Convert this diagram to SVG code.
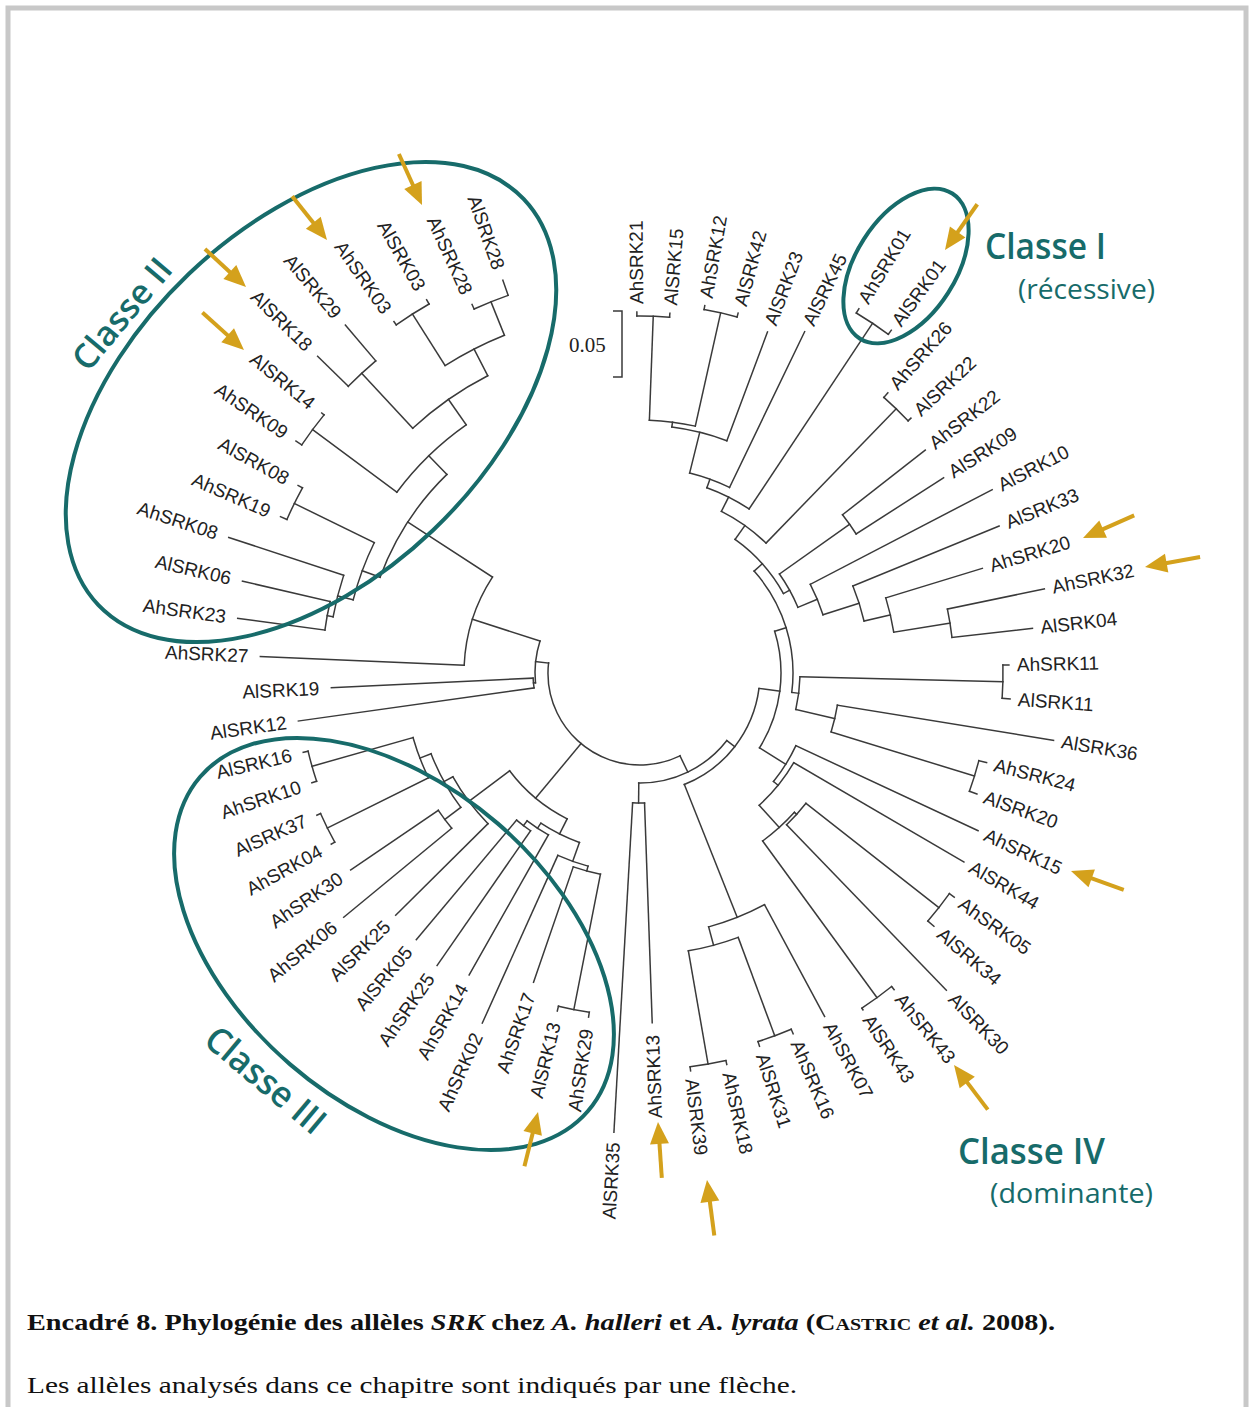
<svg xmlns="http://www.w3.org/2000/svg" width="1253" height="1407" viewBox="0 0 1253 1407">
  <style>
    .br line, .br circle { stroke: #3a3a3a; stroke-width: 1.5; fill: none; stroke-linecap: square; }
    .lab text { font-family: "Liberation Sans", Arial, sans-serif; font-size: 19px; fill: #222; }
    .lab .l { text-anchor: end; }
    .clade { fill: none; stroke: #176b6a; stroke-width: 4; }
    .cls { font-family: "Open Sans", "Liberation Sans", sans-serif; fill: #176b6a; }
    .cap { font-family: "Liberation Serif", "Times New Roman", serif; font-size: 24px; fill: #111; }
  </style>
  <defs>
    <g id="arrow">
      <line x1="-56" y1="0" x2="-14" y2="0" stroke="#d4a11c" stroke-width="4"/>
      <path d="M0,0 L-22,-9.5 L-22,9.5 Z" fill="#d4a11c"/>
    </g>
  </defs>

  <rect width="1253" height="1407" fill="#fff"/>
  <rect x="8" y="8" width="1238" height="1430" fill="none" stroke="#c8c8c8" stroke-width="5"/>

  <!-- scale bar -->
  <g id="scale">
    <path d="M613,311 H622 V377 H613" fill="none" stroke="#3a3a3a" stroke-width="1.5"/>
    <text x="569" y="352" font-family="Liberation Serif, serif" font-size="21" fill="#222">0.05</text>
  </g>

  <g transform="translate(640,673)">
    <!-- branches: node arcs and radial segments -->
    <g id="connectors" class="br">
      <!-- arcs -->
      <circle r="357" stroke-dasharray="32.71 3000" transform="rotate(-90.5)"/>
      <circle r="369" stroke-dasharray="33.81 3000" transform="rotate(-80)"/>
      <circle r="253" stroke-dasharray="46.36 3000" transform="rotate(-87.875)"/>
      <circle r="248" stroke-dasharray="56.81 3000" transform="rotate(-82.625)"/>
      <circle r="206" stroke-dasharray="42.47 3000" transform="rotate(-76.0625)"/>
      <circle r="420" stroke-dasharray="38.48 3000" transform="rotate(-59)"/>
      <circle r="197" stroke-dasharray="47.38 3000" transform="rotate(-70.156)"/>
      <circle r="368" stroke-dasharray="33.72 3000" transform="rotate(-48.5)"/>
      <circle r="181" stroke-dasharray="54.94 3000" transform="rotate(-63.266)"/>
      <circle r="257" stroke-dasharray="23.55 3000" transform="rotate(-38)"/>
      <circle r="314" stroke-dasharray="28.77 3000" transform="rotate(-11.75)"/>
      <circle r="257" stroke-dasharray="35.32 3000" transform="rotate(-17)"/>
      <circle r="230" stroke-dasharray="36.88 3000" transform="rotate(-22.25)"/>
      <circle r="192" stroke-dasharray="32.99 3000" transform="rotate(-27.5)"/>
      <circle r="171" stroke-dasharray="38.19 3000" transform="rotate(-35.375)"/>
      <circle r="164" stroke-dasharray="73.26 3000" transform="rotate(-54.57)"/>
      <circle r="363" stroke-dasharray="33.26 3000" transform="rotate(-1.25)"/>
      <circle r="350" stroke-dasharray="32.07 3000" transform="rotate(14.5)"/>
      <circle r="200" stroke-dasharray="27.49 3000" transform="rotate(9.25)"/>
      <circle r="160" stroke-dasharray="32.99 3000" transform="rotate(1.375)"/>
      <circle r="153" stroke-dasharray="130.98 3000" transform="rotate(-41.77)"/>
      <circle r="380" stroke-dasharray="34.82 3000" transform="rotate(35.5)"/>
      <circle r="211" stroke-dasharray="29.0 3000" transform="rotate(38.125)"/>
      <circle r="402" stroke-dasharray="36.84 3000" transform="rotate(51.25)"/>
      <circle r="208" stroke-dasharray="42.89 3000" transform="rotate(42.06)"/>
      <circle r="178" stroke-dasharray="55.05 3000" transform="rotate(30.25)"/>
      <circle r="172" stroke-dasharray="42.36 3000" transform="rotate(25)"/>
      <circle r="141" stroke-dasharray="121.32 3000" transform="rotate(-17.245)"/>
      <circle r="387" stroke-dasharray="35.46 3000" transform="rotate(67)"/>
      <circle r="397" stroke-dasharray="36.38 3000" transform="rotate(77.5)"/>
      <circle r="282" stroke-dasharray="51.68 3000" transform="rotate(69.625)"/>
      <circle r="263" stroke-dasharray="60.25 3000" transform="rotate(61.75)"/>
      <circle r="120" stroke-dasharray="127.56 3000" transform="rotate(7.405)"/>
      <circle r="130" stroke-dasharray="11.91 3000" transform="rotate(88)"/>
      <circle r="110" stroke-dasharray="101.3 3000" transform="rotate(37.86)"/>
      <circle r="92" stroke-dasharray="195.82 3000" transform="rotate(64.24)"/>
      <circle r="343" stroke-dasharray="31.43 3000" transform="rotate(98.5)"/>
      <circle r="205" stroke-dasharray="28.18 3000" transform="rotate(101.125)"/>
      <circle r="200" stroke-dasharray="32.08 3000" transform="rotate(105.06)"/>
      <circle r="192" stroke-dasharray="17.59 3000" transform="rotate(124.75)"/>
      <circle r="186" stroke-dasharray="25.56 3000" transform="rotate(119.5)"/>
      <circle r="180" stroke-dasharray="43.29 3000" transform="rotate(109.66)"/>
      <circle r="244" stroke-dasharray="22.36 3000" transform="rotate(140.5)"/>
      <circle r="349" stroke-dasharray="31.98 3000" transform="rotate(151)"/>
      <circle r="341" stroke-dasharray="31.25 3000" transform="rotate(161.5)"/>
      <circle r="236" stroke-dasharray="43.25 3000" transform="rotate(153.625)"/>
      <circle r="224" stroke-dasharray="61.58 3000" transform="rotate(143.125)"/>
      <circle r="214" stroke-dasharray="58.83 3000" transform="rotate(135.25)"/>
      <circle r="163" stroke-dasharray="75.6 3000" transform="rotate(116.55)"/>
      <circle r="107" stroke-dasharray="9.80 3000" transform="rotate(172)"/>
      <circle r="318" stroke-dasharray="29.14 3000" transform="rotate(187.75)"/>
      <circle r="312" stroke-dasharray="42.88 3000" transform="rotate(190.375)"/>
      <circle r="385" stroke-dasharray="35.28 3000" transform="rotate(203.5)"/>
      <circle r="296" stroke-dasharray="61.04 3000" transform="rotate(194.31)"/>
      <circle r="408" stroke-dasharray="37.39 3000" transform="rotate(214)"/>
      <circle r="409" stroke-dasharray="37.48 3000" transform="rotate(224.5)"/>
      <circle r="425" stroke-dasharray="38.94 3000" transform="rotate(235)"/>
      <circle r="400" stroke-dasharray="36.65 3000" transform="rotate(245.5)"/>
      <circle r="364" stroke-dasharray="66.71 3000" transform="rotate(237.625)"/>
      <circle r="334" stroke-dasharray="91.81 3000" transform="rotate(227.125)"/>
      <circle r="303" stroke-dasharray="97.17 3000" transform="rotate(216.625)"/>
      <circle r="277" stroke-dasharray="123.72 3000" transform="rotate(200.22)"/>
      <circle r="176" stroke-dasharray="93.75 3000" transform="rotate(182.5)"/>
      <circle r="105" stroke-dasharray="42.40 3000" transform="rotate(174.625)"/>

      <!-- radial segments -->
      <line x1="357" x2="361" transform="rotate(-90.5)"/>
      <line x1="357" x2="361" transform="rotate(-85.25)"/>
      <line x1="369" x2="373" transform="rotate(-80)"/>
      <line x1="369" x2="373" transform="rotate(-74.75)"/>
      <line x1="253" x2="357" transform="rotate(-87.875)"/>
      <line x1="253" x2="369" transform="rotate(-77.375)"/>
      <line x1="248" x2="253" transform="rotate(-82.625)"/>
      <line x1="248" x2="364" transform="rotate(-69.5)"/>
      <line x1="206" x2="248" transform="rotate(-76.0625)"/>
      <line x1="206" x2="379" transform="rotate(-64.25)"/>
      <line x1="197" x2="206" transform="rotate(-70.156)"/>
      <line x1="420" x2="425" transform="rotate(-59)"/>
      <line x1="420" x2="425" transform="rotate(-53.75)"/>
      <line x1="197" x2="420" transform="rotate(-56.375)"/>
      <line x1="181" x2="197" transform="rotate(-63.266)"/>
      <line x1="368" x2="374" transform="rotate(-48.5)"/>
      <line x1="368" x2="372" transform="rotate(-43.25)"/>
      <line x1="181" x2="368" transform="rotate(-45.875)"/>
      <line x1="164" x2="181" transform="rotate(-54.57)"/>
      <line x1="257" x2="362" transform="rotate(-38)"/>
      <line x1="257" x2="361" transform="rotate(-32.75)"/>
      <line x1="171" x2="257" transform="rotate(-35.375)"/>
      <line x1="192" x2="397" transform="rotate(-27.5)"/>
      <line x1="230" x2="388" transform="rotate(-22.25)"/>
      <line x1="257" x2="358" transform="rotate(-17)"/>
      <line x1="314" x2="413" transform="rotate(-11.75)"/>
      <line x1="314" x2="395" transform="rotate(-6.5)"/>
      <line x1="257" x2="314" transform="rotate(-9.125)"/>
      <line x1="230" x2="257" transform="rotate(-13.0625)"/>
      <line x1="192" x2="230" transform="rotate(-17.656)"/>
      <line x1="171" x2="192" transform="rotate(-22.578)"/>
      <line x1="164" x2="171" transform="rotate(-28.977)"/>
      <line x1="153" x2="164" transform="rotate(-41.77)"/>
      <line x1="363" x2="369" transform="rotate(-1.25)"/>
      <line x1="363" x2="371" transform="rotate(4)"/>
      <line x1="160" x2="363" transform="rotate(1.375)"/>
      <line x1="200" x2="419" transform="rotate(9.25)"/>
      <line x1="350" x2="358" transform="rotate(14.5)"/>
      <line x1="350" x2="358" transform="rotate(19.75)"/>
      <line x1="200" x2="350" transform="rotate(17.125)"/>
      <line x1="160" x2="200" transform="rotate(13.19)"/>
      <line x1="153" x2="160" transform="rotate(7.28)"/>
      <line x1="141" x2="153" transform="rotate(-17.245)"/>
      <line x1="172" x2="373" transform="rotate(25)"/>
      <line x1="178" x2="375" transform="rotate(30.25)"/>
      <line x1="172" x2="178" transform="rotate(39.11)"/>
      <line x1="141" x2="172" transform="rotate(32.055)"/>
      <line x1="380" x2="386" transform="rotate(35.5)"/>
      <line x1="380" x2="388" transform="rotate(40.75)"/>
      <line x1="211" x2="380" transform="rotate(38.125)"/>
      <line x1="211" x2="441" transform="rotate(46)"/>
      <line x1="208" x2="211" transform="rotate(42.06)"/>
      <line x1="402" x2="406" transform="rotate(51.25)"/>
      <line x1="402" x2="404" transform="rotate(56.5)"/>
      <line x1="208" x2="402" transform="rotate(53.875)"/>
      <line x1="178" x2="208" transform="rotate(47.97)"/>
      <line x1="120" x2="141" transform="rotate(7.405)"/>
      <line x1="263" x2="390" transform="rotate(61.75)"/>
      <line x1="387" x2="392" transform="rotate(67)"/>
      <line x1="387" x2="392" transform="rotate(72.25)"/>
      <line x1="397" x2="401" transform="rotate(77.5)"/>
      <line x1="397" x2="401" transform="rotate(82.75)"/>
      <line x1="282" x2="387" transform="rotate(69.625)"/>
      <line x1="282" x2="397" transform="rotate(80.125)"/>
      <line x1="263" x2="282" transform="rotate(74.875)"/>
      <line x1="120" x2="263" transform="rotate(68.31)"/>
      <line x1="110" x2="120" transform="rotate(37.86)"/>
      <line x1="130" x2="350" transform="rotate(88)"/>
      <line x1="130" x2="460" transform="rotate(93.25)"/>
      <line x1="110" x2="130" transform="rotate(90.625)"/>
      <line x1="92" x2="110" transform="rotate(64.24)"/>

      <line x1="343" x2="348" transform="rotate(98.5)"/>
      <line x1="343" x2="348" transform="rotate(103.75)"/>
      <line x1="205" x2="343" transform="rotate(101.125)"/>
      <line x1="205" x2="327" transform="rotate(109)"/>
      <line x1="200" x2="205" transform="rotate(105.06)"/>
      <line x1="200" x2="384" transform="rotate(114.25)"/>
      <line x1="180" x2="200" transform="rotate(109.66)"/>
      <line x1="186" x2="347" transform="rotate(119.5)"/>
      <line x1="192" x2="356" transform="rotate(124.75)"/>
      <line x1="192" x2="348" transform="rotate(130)"/>
      <line x1="186" x2="192" transform="rotate(127.375)"/>
      <line x1="180" x2="186" transform="rotate(123.44)"/>
      <line x1="163" x2="180" transform="rotate(116.55)"/>
      <line x1="214" x2="344" transform="rotate(135.25)"/>
      <line x1="244" x2="384" transform="rotate(140.5)"/>
      <line x1="244" x2="350" transform="rotate(145.75)"/>
      <line x1="224" x2="244" transform="rotate(143.125)"/>
      <line x1="349" x2="353" transform="rotate(151)"/>
      <line x1="349" x2="353" transform="rotate(156.25)"/>
      <line x1="341" x2="346" transform="rotate(161.5)"/>
      <line x1="341" x2="346" transform="rotate(166.75)"/>
      <line x1="236" x2="349" transform="rotate(153.625)"/>
      <line x1="236" x2="341" transform="rotate(164.125)"/>
      <line x1="224" x2="236" transform="rotate(158.875)"/>
      <line x1="214" x2="224" transform="rotate(151)"/>
      <line x1="163" x2="214" transform="rotate(143.125)"/>
      <line x1="92" x2="163" transform="rotate(129.84)"/>
      <line x1="107" x2="345" transform="rotate(172)"/>
      <line x1="107" x2="309" transform="rotate(177.25)"/>
      <line x1="105" x2="107" transform="rotate(174.625)"/>
      <line x1="176" x2="380" transform="rotate(182.5)"/>
      <line x1="318" x2="406" transform="rotate(187.75)"/>
      <line x1="318" x2="408" transform="rotate(193)"/>
      <line x1="312" x2="318" transform="rotate(190.375)"/>
      <line x1="312" x2="433" transform="rotate(198.25)"/>
      <line x1="296" x2="312" transform="rotate(194.31)"/>
      <line x1="385" x2="392" transform="rotate(203.5)"/>
      <line x1="385" x2="390" transform="rotate(208.75)"/>
      <line x1="296" x2="385" transform="rotate(206.125)"/>
      <line x1="277" x2="296" transform="rotate(200.22)"/>
      <line x1="408" x2="415" transform="rotate(214)"/>
      <line x1="408" x2="411" transform="rotate(219.25)"/>
      <line x1="303" x2="408" transform="rotate(216.625)"/>
      <line x1="409" x2="452" transform="rotate(224.5)"/>
      <line x1="409" x2="456" transform="rotate(229.75)"/>
      <line x1="425" x2="429" transform="rotate(235)"/>
      <line x1="425" x2="430" transform="rotate(240.25)"/>
      <line x1="400" x2="405" transform="rotate(245.5)"/>
      <line x1="400" x2="416" transform="rotate(250.75)"/>
      <line x1="334" x2="409" transform="rotate(227.125)"/>
      <line x1="364" x2="425" transform="rotate(237.625)"/>
      <line x1="364" x2="400" transform="rotate(248.125)"/>
      <line x1="334" x2="364" transform="rotate(242.875)"/>
      <line x1="303" x2="334" transform="rotate(235)"/>
      <line x1="277" x2="303" transform="rotate(225.8125)"/>
      <line x1="176" x2="277" transform="rotate(213.02)"/>
      <line x1="105" x2="176" transform="rotate(197.76)"/>
      <line x1="92" x2="105" transform="rotate(186.19)"/>
    </g>

    <!-- leaf labels -->
    <g class="lab" dominant-baseline="central">
      <g id="AhSRK21"><text transform="rotate(-90.5) translate(369)">AhSRK21</text></g>
      <g id="AlSRK15"><text transform="rotate(-85.25) translate(369)">AlSRK15</text></g>
      <g id="AhSRK12"><text transform="rotate(-80) translate(381)">AhSRK12</text></g>
      <g id="AlSRK42"><text transform="rotate(-74.75) translate(381)">AlSRK42</text></g>
      <g id="AlSRK23"><text transform="rotate(-69.5) translate(372)">AlSRK23</text></g>
      <g id="AlSRK45"><text transform="rotate(-64.25) translate(387)">AlSRK45</text></g>
      <g id="AhSRK01"><text transform="rotate(-59) translate(433)">AhSRK01</text></g>
      <g id="AlSRK01"><text transform="rotate(-53.75) translate(433)">AlSRK01</text></g>
      <g id="AhSRK26"><text transform="rotate(-48.5) translate(382)">AhSRK26</text></g>
      <g id="AlSRK22"><text transform="rotate(-43.25) translate(380)">AlSRK22</text></g>
      <g id="AhSRK22"><text transform="rotate(-38) translate(370)">AhSRK22</text></g>
      <g id="AlSRK09"><text transform="rotate(-32.75) translate(369)">AlSRK09</text></g>
      <g id="AlSRK10"><text transform="rotate(-27.5) translate(405)">AlSRK10</text></g>
      <g id="AlSRK33"><text transform="rotate(-22.25) translate(396)">AlSRK33</text></g>
      <g id="AhSRK20"><text transform="rotate(-17) translate(366)">AhSRK20</text></g>
      <g id="AhSRK32"><text transform="rotate(-11.75) translate(421)">AhSRK32</text></g>
      <g id="AlSRK04"><text transform="rotate(-6.5) translate(403)">AlSRK04</text></g>
      <g id="AhSRK11"><text transform="rotate(-1.25) translate(377)">AhSRK11</text></g>
      <g id="AlSRK11"><text transform="rotate(4) translate(379)">AlSRK11</text></g>
      <g id="AlSRK36"><text transform="rotate(9.25) translate(427)">AlSRK36</text></g>
      <g id="AhSRK24"><text transform="rotate(14.5) translate(366)">AhSRK24</text></g>
      <g id="AlSRK20"><text transform="rotate(19.75) translate(366)">AlSRK20</text></g>
      <g id="AhSRK15"><text transform="rotate(25) translate(381)">AhSRK15</text></g>
      <g id="AlSRK44"><text transform="rotate(30.25) translate(383)">AlSRK44</text></g>
      <g id="AhSRK05"><text transform="rotate(35.5) translate(394)">AhSRK05</text></g>
      <g id="AlSRK34"><text transform="rotate(40.75) translate(396)">AlSRK34</text></g>
      <g id="AlSRK30"><text transform="rotate(46) translate(449)">AlSRK30</text></g>
      <g id="AhSRK43"><text transform="rotate(51.25) translate(414)">AhSRK43</text></g>
      <g id="AlSRK43"><text transform="rotate(56.5) translate(412)">AlSRK43</text></g>
      <g id="AhSRK07"><text transform="rotate(61.75) translate(398)">AhSRK07</text></g>
      <g id="AhSRK16"><text transform="rotate(67) translate(400)">AhSRK16</text></g>
      <g id="AlSRK31"><text transform="rotate(72.25) translate(400)">AlSRK31</text></g>
      <g id="AhSRK18"><text transform="rotate(77.5) translate(409)">AhSRK18</text></g>
      <g id="AlSRK39"><text transform="rotate(82.75) translate(409)">AlSRK39</text></g>
      <g id="AhSRK13"><text class="l" transform="rotate(-92) translate(-362)">AhSRK13</text></g>
      <g id="AlSRK35"><text class="l" transform="rotate(-86.75) translate(-470)">AlSRK35</text></g>
      <g id="AhSRK29"><text class="l" transform="rotate(-81.5) translate(-360)">AhSRK29</text></g>
      <g id="AlSRK13"><text class="l" transform="rotate(-76.25) translate(-360)">AlSRK13</text></g>
      <g id="AhSRK17"><text class="l" transform="rotate(-71) translate(-339)">AhSRK17</text></g>
      <g id="AhSRK02"><text class="l" transform="rotate(-65.75) translate(-396)">AhSRK02</text></g>
      <g id="AhSRK14"><text class="l" transform="rotate(-60.5) translate(-359)">AhSRK14</text></g>
      <g id="AhSRK25"><text class="l" transform="rotate(-55.25) translate(-368)">AhSRK25</text></g>
      <g id="AlSRK05"><text class="l" transform="rotate(-50) translate(-360)">AlSRK05</text></g>
      <g id="AlSRK25"><text class="l" transform="rotate(-44.75) translate(-356)">AlSRK25</text></g>
      <g id="AhSRK06"><text class="l" transform="rotate(-39.5) translate(-396)">AhSRK06</text></g>
      <g id="AhSRK30"><text class="l" transform="rotate(-34.25) translate(-362)">AhSRK30</text></g>
      <g id="AhSRK04"><text class="l" transform="rotate(-29) translate(-365)">AhSRK04</text></g>
      <g id="AlSRK37"><text class="l" transform="rotate(-23.75) translate(-365)">AlSRK37</text></g>
      <g id="AhSRK10"><text class="l" transform="rotate(-18.5) translate(-358)">AhSRK10</text></g>
      <g id="AlSRK16"><text class="l" transform="rotate(-13.25) translate(-358)">AlSRK16</text></g>
      <g id="AlSRK12"><text class="l" transform="rotate(-8) translate(-357)">AlSRK12</text></g>
      <g id="AlSRK19"><text class="l" transform="rotate(-2.75) translate(-321)">AlSRK19</text></g>
      <g id="AhSRK27"><text class="l" transform="rotate(2.5) translate(-392)">AhSRK27</text></g>
      <g id="AhSRK23"><text class="l" transform="rotate(7.75) translate(-418)">AhSRK23</text></g>
      <g id="AlSRK06"><text class="l" transform="rotate(13) translate(-420)">AlSRK06</text></g>
      <g id="AhSRK08"><text class="l" transform="rotate(18.25) translate(-445)">AhSRK08</text></g>
      <g id="AhSRK19"><text class="l" transform="rotate(23.5) translate(-404)">AhSRK19</text></g>
      <g id="AlSRK08"><text class="l" transform="rotate(28.75) translate(-402)">AlSRK08</text></g>
      <g id="AhSRK09"><text class="l" transform="rotate(34) translate(-427)">AhSRK09</text></g>
      <g id="AlSRK14"><text class="l" transform="rotate(39.25) translate(-423)">AlSRK14</text></g>
      <g id="AlSRK18"><text class="l" transform="rotate(44.5) translate(-464)">AlSRK18</text></g>
      <g id="AlSRK29"><text class="l" transform="rotate(49.75) translate(-468)">AlSRK29</text></g>
      <g id="AhSRK03"><text class="l" transform="rotate(55) translate(-441)">AhSRK03</text></g>
      <g id="AlSRK03"><text class="l" transform="rotate(60.25) translate(-442)">AlSRK03</text></g>
      <g id="AhSRK28"><text class="l" transform="rotate(65.5) translate(-417)">AhSRK28</text></g>
      <g id="AlSRK28"><text class="l" transform="rotate(70.75) translate(-428)">AlSRK28</text></g>
    </g>
  </g>

  <!-- class outlines -->
  <g id="classes">
    <ellipse class="clade" cx="311" cy="402" rx="294" ry="177" transform="rotate(-43.7 311 402)"/>
    <ellipse class="clade" cx="906" cy="266" rx="86" ry="50" transform="rotate(-57.4 906 266)"/>
    <ellipse class="clade" cx="394" cy="944" rx="256" ry="159" transform="rotate(40.8 394 944)"/>
    <text class="cls" font-size="34" font-weight="600" textLength="134" lengthAdjust="spacingAndGlyphs" transform="translate(88,373) rotate(-50)">Classe II</text>
    <text class="cls" font-size="36" font-weight="600" textLength="145" lengthAdjust="spacingAndGlyphs" transform="translate(202,1043) rotate(40)">Classe III</text>
    <text class="cls" x="985" y="259" font-size="36" font-weight="600" textLength="121" lengthAdjust="spacingAndGlyphs">Classe I</text>
    <text class="cls" x="1018" y="299" font-size="27" textLength="137" lengthAdjust="spacingAndGlyphs">(récessive)</text>
    <text class="cls" x="958" y="1164" font-size="36" font-weight="600" textLength="147" lengthAdjust="spacingAndGlyphs">Classe IV</text>
    <text class="cls" x="990" y="1203" font-size="27" textLength="163" lengthAdjust="spacingAndGlyphs">(dominante)</text>
  </g>

  <!-- arrows marking the analysed alleles -->
  <g id="arrows">
    <use href="#arrow" transform="translate(422,205) rotate(65.6)"/>
    <use href="#arrow" transform="translate(327,240) rotate(51.5)"/>
    <use href="#arrow" transform="translate(246,287) rotate(42.8)"/>
    <use href="#arrow" transform="translate(244,350) rotate(42)"/>
    <use href="#arrow" transform="translate(945,250) rotate(125.2)"/>
    <use href="#arrow" transform="translate(1083,538) rotate(156.1)"/>
    <use href="#arrow" transform="translate(1145,567) rotate(169.7)"/>
    <use href="#arrow" transform="translate(1071,871) rotate(199.7)"/>
    <use href="#arrow" transform="translate(954,1065) rotate(232.9)"/>
    <use href="#arrow" transform="translate(707,1180) rotate(262.5)"/>
    <use href="#arrow" transform="translate(658,1122) rotate(266.1)"/>
    <use href="#arrow" transform="translate(538,1112) rotate(284)"/>
  </g>

  <!-- caption -->
  <g id="caption" class="cap">
    <text x="27" y="1330" font-weight="bold" textLength="1028" lengthAdjust="spacingAndGlyphs">Encadré 8. Phylogénie des allèles <tspan font-style="italic">SRK</tspan> chez <tspan font-style="italic">A. halleri</tspan> et <tspan font-style="italic">A. lyrata</tspan> (<tspan font-variant="small-caps">Castric</tspan> <tspan font-style="italic">et al.</tspan> 2008).</text>
    <text x="27" y="1393" textLength="770" lengthAdjust="spacingAndGlyphs">Les allèles analysés dans ce chapitre sont indiqués par une flèche.</text>
  </g>
</svg>
